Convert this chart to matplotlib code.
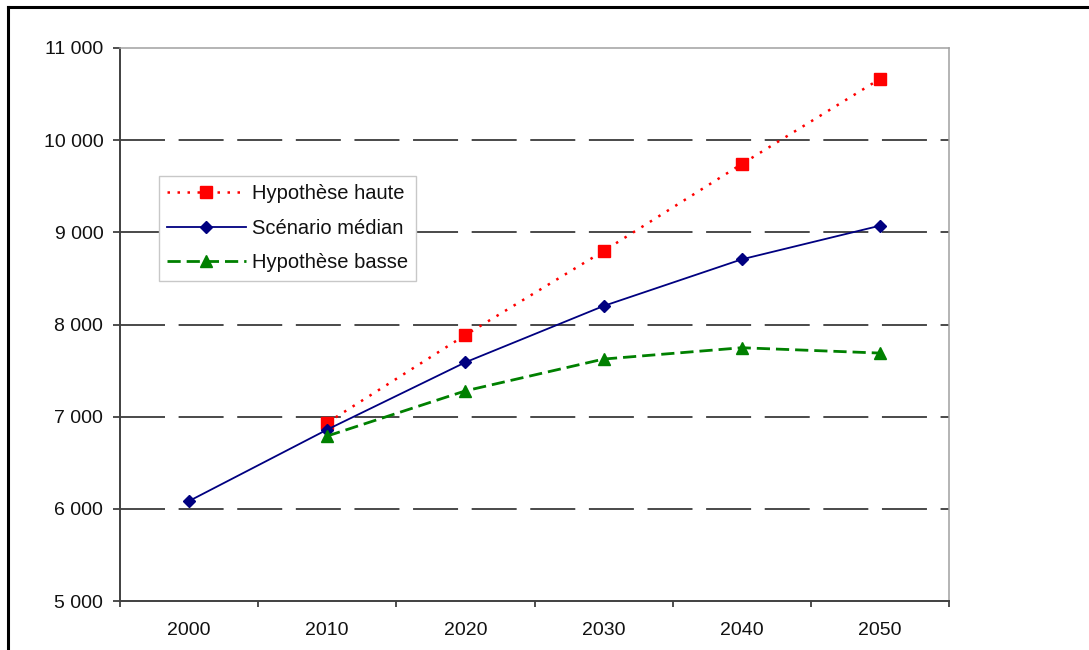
import matplotlib
matplotlib.use("Agg")
import matplotlib.pyplot as plt
from matplotlib.lines import Line2D
from matplotlib.ticker import FuncFormatter, FixedLocator

plt.rcParams['font.family'] = ['Liberation Sans', 'DejaVu Sans']
plt.rcParams['lines.scale_dashes'] = False

# Population projections (thousands) by year
years = ["2000", "2010", "2020", "2030", "2040", "2050"]
haute = [None, 6935, 7886, 8797, 9741, 10664]
median = [6085, 6860, 7590, 8201, 8707, 9072]
basse = [None, 6790, 7280, 7625, 7748, 7690]

y_min, y_max, y_step = 5000, 11000, 1000

fig = plt.figure(figsize=(10.89, 6.5), dpi=100)
W, H = 1089, 650
ax = fig.add_axes([120 / W, 1 - 601 / H, 829 / W, 553 / H])

x = list(range(len(years)))


def pts(vals):
    xs = [i for i, v in zip(x, vals) if v is not None]
    ys = [v for v in vals if v is not None]
    return xs, ys


hx, hy = pts(haute)
ax.plot(hx, hy, color='#FF0000', lw=1.8, linestyle=(0, (1.8, 5.4)),
        marker='s', ms=8.2, mec='#FF0000', mfc='#FF0000',
        label='Hypothèse haute', zorder=3)
mx, my = pts(median)
ax.plot(mx, my, color='#000080', lw=1.3, linestyle='-',
        marker='D', ms=6.6, mec='#000080', mfc='#000080',
        label='Scénario médian', zorder=4)
bx, by = pts(basse)
ax.plot(bx, by, color='#008000', lw=2.0, linestyle=(0, (9.5, 4.3)),
        marker='^', ms=9, mec='#008000', mfc='#008000',
        label='Hypothèse basse', zorder=5)

# Axes limits and ticks
ax.set_xlim(-0.5, len(years) - 0.5)
ax.set_ylim(y_min, y_max)
ax.set_yticks(list(range(y_min, y_max + 1, y_step)))
ax.yaxis.set_major_formatter(
    FuncFormatter(lambda v, p: f"{int(v):,}".replace(",", " ")))
ax.set_xticks(x)
ax.set_xticklabels(years)
ax.xaxis.set_minor_locator(FixedLocator([i - 0.5 for i in range(len(years) + 1)]))

ax.tick_params(axis='x', which='major', length=0, pad=15,
               labelsize=14, labelcolor='#111111')
ax.tick_params(axis='x', which='minor', length=4.5, width=1.3,
               color='#404040', direction='out')
ax.tick_params(axis='y', which='major', length=5, width=1.3, pad=7,
               color='#404040', direction='out', labelsize=14,
               labelcolor='#111111')

# Dashed horizontal gridlines
ax.grid(axis='y', color='#2a2a2a', lw=1.2, linestyle=(0, (32.4, 9.8)))
ax.set_axisbelow(True)
gls = ax.get_ygridlines()
gls[0].set_visible(False)
gls[-1].set_visible(False)

for side in ('left', 'bottom'):
    ax.spines[side].set_color('#404040')
    ax.spines[side].set_linewidth(1.4)
for side in ('top', 'right'):
    ax.spines[side].set_color('#a0a0a0')
    ax.spines[side].set_linewidth(1.1)

leg = ax.legend(loc='upper left', bbox_to_anchor=(159 / W, 1 - 176 / H),
                bbox_transform=fig.transFigure, fontsize=14.5,
                frameon=True, fancybox=False, edgecolor='#c8c8c8',
                framealpha=1, borderpad=0.4, labelspacing=0.78,
                handlelength=3.9, handletextpad=0.3, borderaxespad=0)
leg.get_frame().set_linewidth(1.0)
for t in leg.get_texts():
    t.set_color('#111111')

# Outer page frame
fig.add_artist(Line2D([8 / W, 1.0], [1 - 7 / H, 1 - 7 / H],
                      transform=fig.transFigure, color='black', lw=2.2))
fig.add_artist(Line2D([8 / W, 8 / W], [0, 1 - 7 / H],
                      transform=fig.transFigure, color='black', lw=2.2,
                      solid_capstyle='projecting'))

fig.savefig("out.png", dpi=100)
